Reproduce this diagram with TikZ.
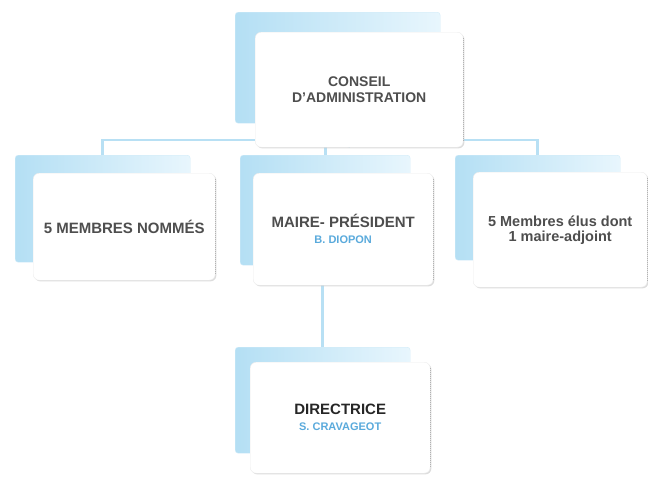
\documentclass[tikz,border=0pt]{standalone}
\usepackage{fontspec}
\setmainfont{Liberation Sans}
\usetikzlibrary{positioning,backgrounds,shadows}
\definecolor{panelblue}{HTML}{B4DFF4}
\definecolor{panellight}{HTML}{E8F6FD}
\definecolor{linkblue}{HTML}{B8E0F4}
\definecolor{nameblue}{HTML}{5AAADC}
\definecolor{textgray}{HTML}{4E4E4E}

\tikzset{
  panel/.style={rectangle,rounded corners=3pt,left color=panelblue,right color=panellight,draw=panelblue!60,anchor=north west,inner sep=0pt},
  card/.style={rectangle,rounded corners=6pt,fill=white,draw=gray!15,anchor=north west,align=center,inner sep=0pt,
    drop shadow={shadow xshift=1.2pt,shadow yshift=-1.2pt,fill=gray!45,opacity=0.6},
    font=\fontsize{15}{17}\selectfont\bfseries,text=textgray},
  link/.style={draw=linkblue,line width=2.6pt},
  who/.style={text=nameblue,font=\fontsize{11}{13}\selectfont\bfseries}
}

\begin{document}
\begin{tikzpicture}[x=1pt,y=-1pt]
  \useasboundingbox (0,0) rectangle (648,483);

  % back panels
  \node[panel,minimum width=205,minimum height=111] (conseilB) at (235,12) {};
  \node[panel,minimum width=175,minimum height=107] (nommesB) at (15,155) {};
  \node[panel,minimum width=170,minimum height=110] (maireB) at (240,155) {};
  \node[panel,minimum width=165,minimum height=105] (elusB) at (455,155) {};
  \node[panel,minimum width=175,minimum height=106] (directriceB) at (235,347) {};

  % cards
  \node[card,minimum width=208,minimum height=115,font=\fontsize{14}{16}\selectfont\bfseries] (conseil) at (255,32) {CONSEIL\\D'ADMINISTRATION};
  \node[card,minimum width=182,minimum height=107] (nommes) at (33,173) {5 MEMBRES NOMMÉS};
  \node[card,minimum width=180,minimum height=112] (maire) at (253,173) {MAIRE- PRÉSIDENT\\[-1pt]{\fontsize{11}{13}\selectfont\color{nameblue}B. DIOPON}};
  \node[card,minimum width=174,minimum height=115,font=\fontsize{14.5}{15}\selectfont\bfseries] (elus) at (473,172) {5 Membres élus dont\\1 maire-adjoint};
  \node[card,minimum width=180,minimum height=111,text=black!85] (directrice) at (250,362) {DIRECTRICE\\[-1pt]{\fontsize{11}{13}\selectfont\color{nameblue}S. CRAVAGEOT}};

  % dotted right edges
  \foreach \n in {conseil,nommes,maire,elus,directrice}
    \draw[gray!60,densely dotted,line width=1pt] ([yshift=-6pt]\n.north east) -- ([yshift=6pt]\n.south east);

  % connectors
  \begin{scope}[on background layer]
    \coordinate (bar) at (350,140);
    \draw[link] (nommesB.north) |- (bar) -| (elusB.north);
    \draw[link] (conseil) -- (bar);
    \draw[link] (maireB.north) |- (bar);
    \draw[link] (directriceB.north |- maire.south) -- (directriceB.north);
  \end{scope}
\end{tikzpicture}
\end{document}
